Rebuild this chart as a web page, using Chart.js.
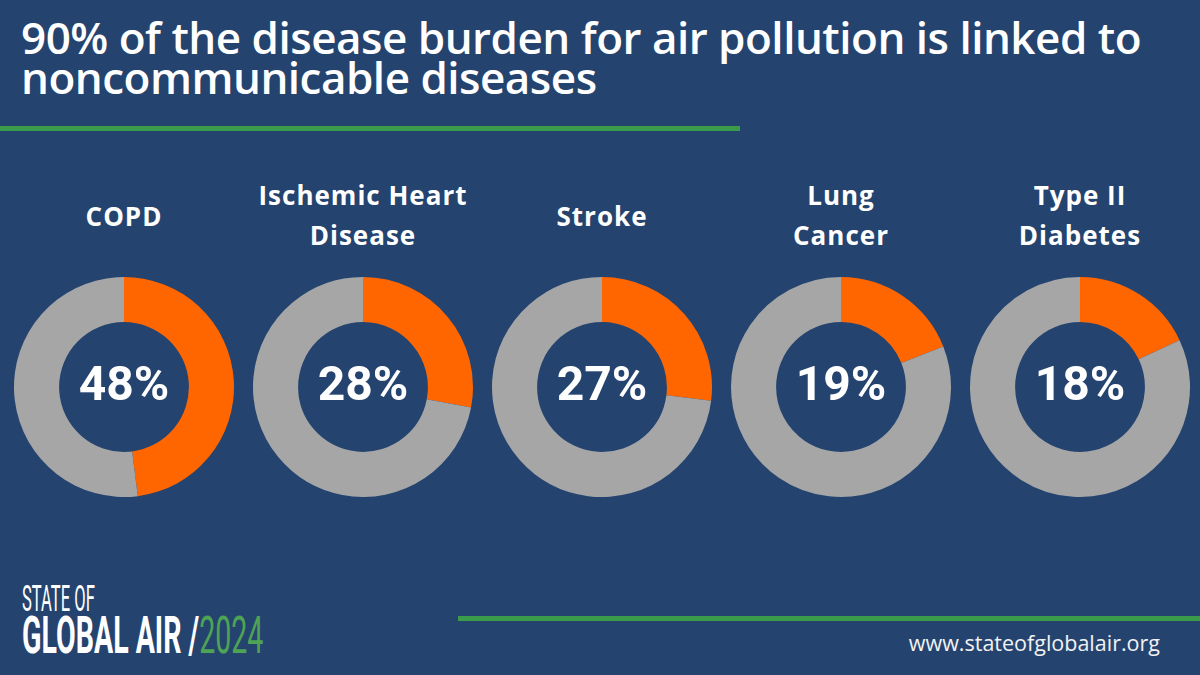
<!DOCTYPE html>
<html>
<head>
<meta charset="utf-8">
<script src="https://cdn.jsdelivr.net/npm/chart.js@4"></script>
<style>
  html, body { margin: 0; padding: 0; }
  body { width: 1200px; height: 675px; background: #24446f; position: relative; overflow: hidden; font-family: "Open Sans", sans-serif; color: #fff; }
  .title { position: absolute; left: 21px; top: 17px; font-size: 44px; font-weight: 600; line-height: 40px; letter-spacing: -0.5px; white-space: nowrap; }
  .rule { position: absolute; height: 5px; background: #3a9c4a; }
  .label { position: absolute; width: 260px; text-align: center; font-size: 26px; font-weight: 700; line-height: 40px; letter-spacing: 1px; }
  .donut { position: absolute; width: 222px; height: 222px; }
  .logo1 { position: absolute; left: 22px; top: 578px; font-family: Roboto, sans-serif; font-size: 36px; font-weight: 400; transform: scaleX(0.46); transform-origin: left top; white-space: nowrap; }
  .logo2 { position: absolute; left: 22px; top: 606px; font-family: Roboto, sans-serif; font-size: 51px; font-weight: 700; transform: scaleX(0.56); transform-origin: left top; white-space: nowrap; }
  .logo2 span { color: #4ea354; font-weight: 400; }
  .url { position: absolute; right: 40px; top: 628px; font-size: 21.5px; color: #f2f2f2; }
</style>
</head>
<body>
<div class="title">90% of the disease burden for air pollution is linked to<br>noncommunicable diseases</div>
<div class="rule" style="left:0; top:126px; width:740px;"></div>
<div class="rule" style="left:458px; top:616px; width:742px;"></div>
<div id="charts"></div>
<div class="logo1">STATE OF</div>
<div class="logo2">GLOBAL AIR /<span>2024</span></div>
<div class="url">www.stateofglobalair.org</div>

<script>
// categories (label lines) and share of disease burden (%)
const categories = [['COPD'], ['Ischemic Heart', 'Disease'], ['Stroke'], ['Lung', 'Cancer'], ['Type II', 'Diabetes']];
const shares = [48, 28, 27, 19, 18];

const centersX = [124, 363, 602, 841, 1080];
const centerY = 387;

// draws the percentage in the hole of each donut
const centerText = {
    id: 'centerText',
    afterDraw(chart) {
        const arc = chart.getDatasetMeta(0).data[0];
        const ctx = chart.ctx;
        ctx.save();
        ctx.fillStyle = '#ffffff';
        ctx.font = 'bold 48px Roboto, sans-serif';
        ctx.textAlign = 'center';
        ctx.textBaseline = 'middle';
        ctx.fillText(chart.data.datasets[0].data[0] + '%', arc.x, arc.y + 1);
        ctx.restore();
    }
};

const holder = document.getElementById('charts');
categories.forEach(function(lines, i) {
    const lab = document.createElement('div');
    lab.className = 'label';
    lab.style.left = (centersX[i] - 130) + 'px';
    lab.style.top = (lines.length === 1 ? 196 : 175) + 'px';
    lab.innerHTML = lines.join('<br>');
    holder.appendChild(lab);

    const box = document.createElement('div');
    box.className = 'donut';
    box.style.left = (centersX[i] - 111) + 'px';
    box.style.top = (centerY - 111) + 'px';
    const cv = document.createElement('canvas');
    box.appendChild(cv);
    holder.appendChild(box);

    new Chart(cv, {
        type: 'doughnut',
        data: {
            labels: ['Share', 'Other'],
            datasets: [{
                data: [shares[i], 100 - shares[i]],
                backgroundColor: ['#ff6600', '#a6a6a6'],
                borderWidth: 0
            }]
        },
        options: {
            responsive: true,
            maintainAspectRatio: false,
            animation: false,
            cutout: '59%',
            layout: { padding: 1 },
            plugins: { legend: { display: false }, tooltip: { enabled: false } }
        },
        plugins: [centerText]
    });
});
</script>
</body>
</html>
